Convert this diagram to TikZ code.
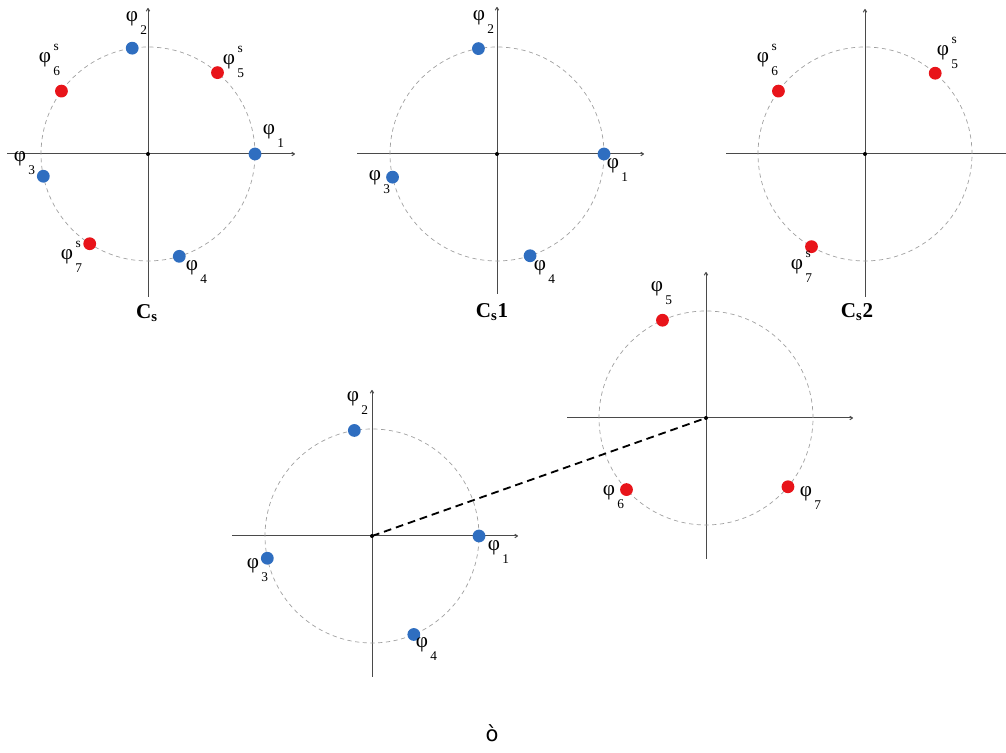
\documentclass[tikz,border=0pt]{standalone}
\usepackage{fontspec}
\setmainfont{Liberation Serif}
\newfontfamily\grkfont{DejaVu Sans}
\usetikzlibrary{arrows.meta,positioning,calc}
\definecolor{ptblue}{HTML}{2F6EC0}
\definecolor{ptred}{HTML}{E8141A}
\definecolor{axgray}{HTML}{4A4A4A}
\definecolor{circgray}{HTML}{A0A0A0}

% phase labels: phi with lowered index, optional raised s
\newcommand{\phl}[1]{φ\rlap{\kern1.6pt\raisebox{-9.5pt}{\fontsize{9.5}{9.5}\selectfont #1}}}
\newcommand{\phls}[1]{φ\rlap{\kern1.6pt\raisebox{-9.5pt}{\fontsize{9.5}{9.5}\selectfont #1}}\rlap{\kern1.8pt\raisebox{8pt}{\fontsize{9.5}{9.5}\selectfont s}}}

\tikzset{
  axis/.style={draw=axgray,line width=0.7pt,-{To[length=2.5pt,width=3pt]}},
  unitcirc/.style={draw=circgray,line width=0.5pt,dash pattern=on 3pt off 2.5pt},
  bdot/.style={circle,fill=ptblue,inner sep=0pt,minimum size=0.32cm},
  rdot/.style={circle,fill=ptred,inner sep=0pt,minimum size=0.32cm},
  orig/.style={circle,fill=black,inner sep=0pt,minimum size=0.1cm},
  plab/.style={font=\fontsize{15}{17}\selectfont,inner sep=0pt},
  title/.style={font=\fontsize{15}{17}\selectfont\bfseries}
}

\begin{document}
\begin{tikzpicture}[x=0.025cm,y=0.025cm]
  \useasboundingbox (0,0) rectangle (1006,753);

  % Cs : all phases
  \begin{scope}[shift={(148,599)}]
    \draw[axis] (-141,0) -- (147,0);
    \draw[axis] (0,-143) -- (0,146);
    \draw[unitcirc] (0,0) circle[radius=107];
    \node[orig] (o1) at (0,0) {};
    \node[bdot] (a1) at (0:107) {};
    \node[bdot] (a2) at (98.5:107) {};
    \node[bdot] (a3) at (192:107) {};
    \node[bdot] (a4) at (287:107) {};
    \node[rdot] (a5) at (49.5:107) {};
    \node[rdot] (a6) at (144:107) {};
    \node[rdot] (a7) at (237:107) {};
    \node[plab] (la1) at (121,18) {\phl{1}};
    \node[plab] (la2) at (-16,131) {\phl{2}};
    \node[plab] (la3) at (-128,-9) {\phl{3}};
    \node[plab] (la4) at (44,-118) {\phl{4}};
    \node[plab] (la5) at (81,92) {\phls{5}};
    \node[plab] (la6) at (-103,94) {\phls{6}};
    \node[plab] (la7) at (-81,-103) {\phls{7}};
    \node[title] (ta) at (-1,-159) {C\textsubscript{s}};
  \end{scope}

  % Cs1 : blue phases only
  \begin{scope}[shift={(497,599)}]
    \draw[axis] (-140,0) -- (147,0);
    \draw[axis] (0,-140) -- (0,147);
    \draw[unitcirc] (0,0) circle[radius=107];
    \node[orig] (o2) at (0,0) {};
    \node[bdot] (b1) at (0:107) {};
    \node[bdot] (b2) at (100:107) {};
    \node[bdot] (b3) at (192.5:107) {};
    \node[bdot] (b4) at (288:107) {};
    \node[plab] (lb1) at (116,-16) {\phl{1}};
    \node[plab] (lb2) at (-18,132) {\phl{2}};
    \node[plab] (lb3) at (-122,-28) {\phl{3}};
    \node[plab] (lb4) at (43,-118) {\phl{4}};
    \node[title] (tb) at (-5,-158) {C\textsubscript{s}1};
  \end{scope}

  % Cs2 : red phases only
  \begin{scope}[shift={(865,599)}]
    \draw[draw=axgray,line width=0.7pt] (-139,0) -- (141,0);
    \draw[axis] (0,-143) -- (0,145);
    \draw[unitcirc] (0,0) circle[radius=107];
    \node[orig] (o3) at (0,0) {};
    \node[rdot] (c5) at (49:107) {};
    \node[rdot] (c6) at (144:107) {};
    \node[rdot] (c7) at (240:107) {};
    \node[plab] (lc5) at (78,101) {\phls{5}};
    \node[plab] (lc6) at (-102,94) {\phls{6}};
    \node[plab] (lc7) at (-68,-113) {\phls{7}};
    \node[title] (tc) at (-8,-158) {C\textsubscript{s}2};
  \end{scope}

  % lower left
  \begin{scope}[shift={(372,217)}]
    \draw[axis] (-140,0) -- (146,0);
    \draw[axis] (0,-141) -- (0,146);
    \draw[unitcirc] (0,0) circle[radius=107];
    \node[orig] (o4) at (0,0) {};
    \node[bdot] (d1) at (0:107) {};
    \node[bdot] (d2) at (99.5:107) {};
    \node[bdot] (d3) at (192:107) {};
    \node[bdot] (d4) at (293:107) {};
    \node[plab] (ld1) at (122,-16) {\phl{1}};
    \node[plab] (ld2) at (-19,133) {\phl{2}};
    \node[plab] (ld3) at (-119,-34) {\phl{3}};
    \node[plab] (ld4) at (50,-113) {\phl{4}};
  \end{scope}

  % lower right
  \begin{scope}[shift={(706,335)}]
    \draw[axis] (-139,0) -- (147,0);
    \draw[axis] (0,-141) -- (0,146);
    \draw[unitcirc] (0,0) circle[radius=107];
    \node[orig] (o5) at (0,0) {};
    \node[rdot] (e5) at (114:107) {};
    \node[rdot] (e6) at (222:107) {};
    \node[rdot] (e7) at (320:107) {};
    \node[plab] (le5) at (-49,125) {\phl{5}};
    \node[plab] (le6) at (-97,-79) {\phl{6}};
    \node[plab] (le7) at (100,-80) {\phl{7}};
  \end{scope}

  % link between the two lower origins
  \draw[line width=1.3pt,dash pattern=on 5.5pt off 3.5pt] (o4.center) -- (o5.center);

  \node[font=\grkfont\fontsize{15}{17}\selectfont] (sym) at (492,20) {ὸ};
\end{tikzpicture}
\end{document}
